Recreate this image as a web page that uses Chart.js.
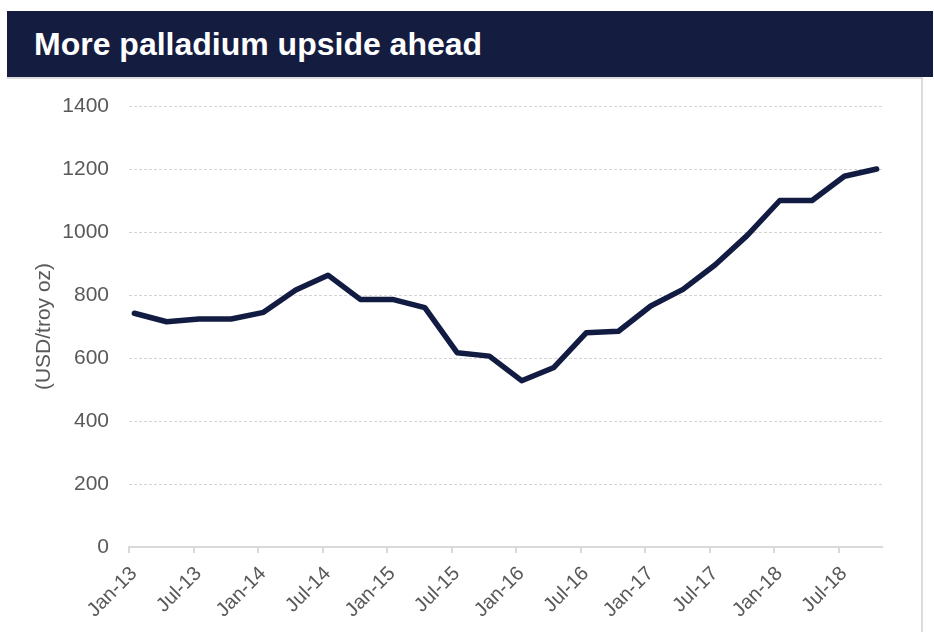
<!DOCTYPE html>
<html>
<head>
<meta charset="utf-8">
<script src="https://cdn.jsdelivr.net/npm/chart.js@4.4.1/dist/chart.umd.min.js"></script>
<style>
    html, body { margin: 0; padding: 0; background: #fff; }
    body { width: 934px; height: 632px; position: relative; overflow: hidden; font-family: "Liberation Sans", Arial, sans-serif; }
    #titleBar {
        position: absolute; left: 7px; top: 11px; width: 926px; height: 66px;
        background: #141c3f; color: #fff; font-weight: bold; font-size: 32px;
        line-height: 66px; padding-left: 27px; box-sizing: border-box;
    }
    #frame {
        position: absolute; left: 7px; top: 77px; width: 916px; height: 560px;
        border-top: 2px solid #dcdcdc; border-right: 2px solid #dcdcdc; box-sizing: border-box;
    }
    #wrap { position: absolute; left: 0; top: 0; width: 934px; height: 632px; }
</style>
</head>
<body>
<div id="frame"></div>
<div id="titleBar">More palladium upside ahead</div>
<div id="wrap"><canvas id="palladiumChart"></canvas></div>
<script>
    // quarterly palladium price, USD/troy oz
    const quarters = [
        "Jan-13", "Apr-13", "Jul-13", "Oct-13",
        "Jan-14", "Apr-14", "Jul-14", "Oct-14",
        "Jan-15", "Apr-15", "Jul-15", "Oct-15",
        "Jan-16", "Apr-16", "Jul-16", "Oct-16",
        "Jan-17", "Apr-17", "Jul-17", "Oct-17",
        "Jan-18", "Apr-18", "Jul-18", "Oct-18"
    ];
    const prices = [
        742, 715, 724, 724,
        745, 816, 863, 786,
        786, 760, 617, 606,
        528, 570, 680, 685,
        765, 818, 896, 990,
        1100, 1100, 1177, 1200
    ];
    const xTickLabels = [
        "Jan-13", "Jul-13", "Jan-14", "Jul-14", "Jan-15", "Jul-15",
        "Jan-16", "Jul-16", "Jan-17", "Jul-17", "Jan-18", "Jul-18"
    ];
    const yTicks = [0, 200, 400, 600, 800, 1000, 1200, 1400];

    const textGrey = "#595959";
    const lineNavy = "#121c42";

    // months since Jan-13, points sit mid-month
    const points = quarters.map((q, i) => ({ x: i * 3 + 0.5, y: prices[i] }));

    const ctx = document.getElementById("palladiumChart").getContext("2d");
    new Chart(ctx, {
        type: "line",
        data: {
            datasets: [{
                label: "Palladium",
                data: points,
                borderColor: lineNavy,
                borderWidth: 5.5,
                borderJoinStyle: "round",
                borderCapStyle: "round",
                pointRadius: 0,
                tension: 0,
                fill: false
            }]
        },
        options: {
            responsive: true,
            maintainAspectRatio: false,
            animation: false,
            layout: { padding: { top: 106, right: 52, left: 0, bottom: 0 } },
            plugins: { legend: { display: false }, tooltip: { enabled: false } },
            scales: {
                x: {
                    type: "linear",
                    min: 0,
                    max: 70,
                    afterBuildTicks: s => { s.ticks = xTickLabels.map((l, i) => ({ value: i * 6 })); },
                    afterFit: s => { s.height = 85; },
                    ticks: {
                        color: textGrey,
                        font: { family: "Liberation Sans", size: 20 },
                        minRotation: 45,
                        maxRotation: 45,
                        padding: 9,
                        labelOffset: 5,
                        autoSkip: false,
                        callback: (v) => xTickLabels[Math.round(v / 6)] || ""
                    },
                    grid: { drawOnChartArea: false, drawTicks: true, tickLength: 6, color: "#d9d9d9", lineWidth: 2 },
                    border: { display: true, color: "#d9d9d9", width: 2 }
                },
                y: {
                    min: 0,
                    max: 1400,
                    afterBuildTicks: s => { s.ticks = yTicks.map(v => ({ value: v })); },
                    afterFit: s => { s.width = 129; },
                    ticks: {
                        color: textGrey,
                        font: { family: "Liberation Sans", size: 21 },
                        padding: 20,
                        callback: v => String(v)
                    },
                    grid: { color: "#d4d4d4", lineWidth: 1, drawTicks: false },
                    border: { display: false, dash: [3, 2] },
                    title: {
                        display: true,
                        text: "(USD/troy oz)",
                        color: textGrey,
                        font: { family: "Liberation Sans", size: 21 },
                        padding: { top: 32, bottom: 0 }
                    }
                }
            }
        }
    });
</script>
</body>
</html>
